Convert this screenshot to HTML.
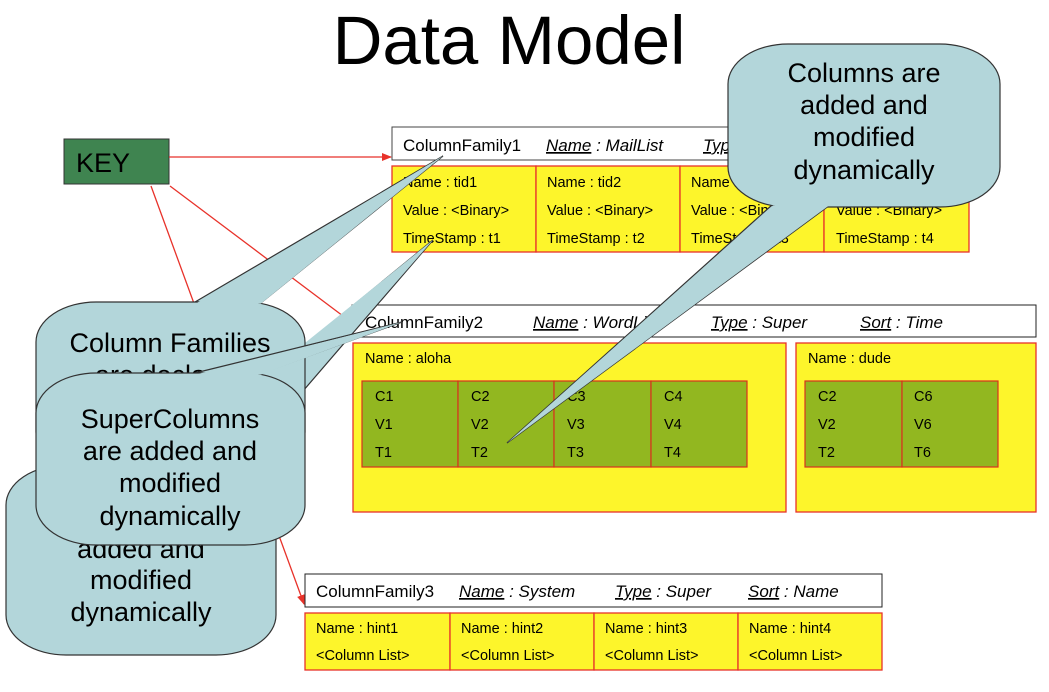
<!DOCTYPE html>
<html><head><meta charset="utf-8"><style>
html,body{margin:0;padding:0;background:#fff;}
svg{display:block;font-family:"Liberation Sans",sans-serif;}
</style></head><body>
<svg width="1049" height="692" viewBox="0 0 1049 692" xmlns="http://www.w3.org/2000/svg">
<defs><marker id="ar" markerWidth="10" markerHeight="10" refX="9" refY="5" orient="auto" markerUnits="userSpaceOnUse"><path d="M0,1 L10,5 L0,9 z" fill="#e8322a"/></marker></defs>
<text x="509" y="64" font-size="69" text-anchor="middle" fill="#000">Data Model</text>

<!-- KEY -->
<rect x="64" y="139" width="105" height="45" fill="#3f8450" stroke="#333" stroke-width="1"/>
<text x="76" y="172" font-size="27" fill="#000">KEY</text>
<g stroke="#e8322a" stroke-width="1.3" fill="none">
<line x1="169" y1="157" x2="391" y2="157" marker-end="url(#ar)"/>
<line x1="170" y1="186" x2="351" y2="322" marker-end="url(#ar)"/>
<line x1="151" y1="186" x2="304" y2="604" marker-end="url(#ar)"/>
</g>

<!-- CF1 -->
<rect x="392" y="127" width="577" height="33" fill="#fff" stroke="#444"/>
<g font-size="17" fill="#000">
<text x="403" y="151">ColumnFamily1</text>
<text x="546" y="151" font-style="italic"><tspan text-decoration="underline">Name</tspan> : MailList</text>
<text x="703" y="151" font-style="italic"><tspan text-decoration="underline">Type</tspan> : Standard</text>
<text x="855" y="151" font-style="italic"><tspan text-decoration="underline">Sort</tspan> : Name</text>
</g>
<g fill="#fdf52b" stroke="#e8322a" stroke-width="1.3">
<rect x="392" y="166" width="144" height="86"/><rect x="536" y="166" width="144" height="86"/>
<rect x="680" y="166" width="144" height="86"/><rect x="824" y="166" width="145" height="86"/>
</g>
<g font-size="14.5" fill="#000">
<text x="403" y="187">Name : tid1</text><text x="403" y="215">Value : &lt;Binary&gt;</text><text x="403" y="243">TimeStamp : t1</text>
<text x="547" y="187">Name : tid2</text><text x="547" y="215">Value : &lt;Binary&gt;</text><text x="547" y="243">TimeStamp : t2</text>
<text x="691" y="187">Name : tid3</text><text x="691" y="215">Value : &lt;Binary&gt;</text><text x="691" y="243">TimeStamp : t3</text>
<text x="836" y="187">Name : tid4</text><text x="836" y="215">Value : &lt;Binary&gt;</text><text x="836" y="243">TimeStamp : t4</text>
</g>

<!-- CF2 -->
<rect x="352" y="305" width="684" height="32" fill="#fff" stroke="#222"/>
<g font-size="17" fill="#000">
<text x="365" y="328">ColumnFamily2</text>
<text x="533" y="328" font-style="italic"><tspan text-decoration="underline">Name</tspan> : WordList</text>
<text x="711" y="328" font-style="italic"><tspan text-decoration="underline">Type</tspan> : Super</text>
<text x="860" y="328" font-style="italic"><tspan text-decoration="underline">Sort</tspan> : Time</text>
</g>
<g fill="#fdf52b" stroke="#e8322a" stroke-width="1.3">
<rect x="353" y="343" width="433" height="169"/><rect x="796" y="343" width="240" height="169"/>
</g>
<g fill="#92b720" stroke="#d8321f" stroke-width="1.2">
<rect x="362" y="381" width="96" height="86"/><rect x="458" y="381" width="96" height="86"/>
<rect x="554" y="381" width="97" height="86"/><rect x="651" y="381" width="96" height="86"/>
<rect x="805" y="381" width="97" height="86"/><rect x="902" y="381" width="96" height="86"/>
</g>
<g font-size="14.5" fill="#000">
<text x="365" y="363">Name : aloha</text><text x="808" y="363">Name : dude</text>
<text x="375" y="401">C1</text><text x="375" y="429">V1</text><text x="375" y="457">T1</text>
<text x="471" y="401">C2</text><text x="471" y="429">V2</text><text x="471" y="457">T2</text>
<text x="567" y="401">C3</text><text x="567" y="429">V3</text><text x="567" y="457">T3</text>
<text x="664" y="401">C4</text><text x="664" y="429">V4</text><text x="664" y="457">T4</text>
<text x="818" y="401">C2</text><text x="818" y="429">V2</text><text x="818" y="457">T2</text>
<text x="914" y="401">C6</text><text x="914" y="429">V6</text><text x="914" y="457">T6</text>
</g>

<!-- CF3 -->
<rect x="305" y="574" width="577" height="33" fill="#fff" stroke="#222"/>
<g font-size="17" fill="#000">
<text x="316" y="597">ColumnFamily3</text>
<text x="459" y="597" font-style="italic"><tspan text-decoration="underline">Name</tspan> : System</text>
<text x="615" y="597" font-style="italic"><tspan text-decoration="underline">Type</tspan> : Super</text>
<text x="748" y="597" font-style="italic"><tspan text-decoration="underline">Sort</tspan> : Name</text>
</g>
<g fill="#fdf52b" stroke="#e8322a" stroke-width="1.3">
<rect x="305" y="613" width="145" height="57"/><rect x="450" y="613" width="144" height="57"/>
<rect x="594" y="613" width="144" height="57"/><rect x="738" y="613" width="144" height="57"/>
</g>
<g font-size="14.5" fill="#000">
<text x="316" y="633">Name : hint1</text><text x="316" y="660">&lt;Column List&gt;</text>
<text x="461" y="633">Name : hint2</text><text x="461" y="660">&lt;Column List&gt;</text>
<text x="605" y="633">Name : hint3</text><text x="605" y="660">&lt;Column List&gt;</text>
<text x="749" y="633">Name : hint4</text><text x="749" y="660">&lt;Column List&gt;</text>
</g>

<!-- Callouts -->
<g fill="#b3d6da" stroke="#333" stroke-width="1.2" font-size="27">
<polygon points="433,240 152,470 235,470"/>
<rect x="6" y="465" width="270" height="190" rx="60" ry="40"/>
<polygon points="152,466 235,466 433,240" stroke="none"/>
<g fill="#000" stroke="none" text-anchor="middle">
<text x="141" y="518">Keys are</text>
<text x="141" y="558">added and</text><text x="141" y="589">modified</text><text x="141" y="621">dynamically</text>
</g>
<polygon points="443,156 195,302 262,302"/>
<rect x="36" y="302" width="269" height="170" rx="60" ry="40"/>
<polygon points="196,303.5 261,303.5 443,156" stroke="none"/>
<g fill="#000" stroke="none" text-anchor="middle">
<text x="170" y="352">Column Families</text><text x="170" y="384">are declared</text>
</g>
<polygon points="402,322 195,373 262,373"/>
<rect x="36" y="373" width="269" height="172" rx="60" ry="40"/>
<polygon points="196,374.5 261,374.5 402,322" stroke="none"/>
<g fill="#000" stroke="none" text-anchor="middle">
<text x="170" y="428">SuperColumns</text><text x="170" y="460">are added and</text>
<text x="170" y="492">modified</text><text x="170" y="525">dynamically</text>
</g>
<polygon points="507,443 772,205 830,205"/>
<rect x="728" y="44" width="272" height="163" rx="60" ry="40"/>
<polygon points="773,205.5 829,205.5 507,443" stroke="none"/>
<g fill="#000" stroke="none" text-anchor="middle">
<text x="864" y="82">Columns are</text><text x="864" y="114">added and</text>
<text x="864" y="146">modified</text><text x="864" y="179">dynamically</text>
</g>
</g>
</svg>
</body></html>
